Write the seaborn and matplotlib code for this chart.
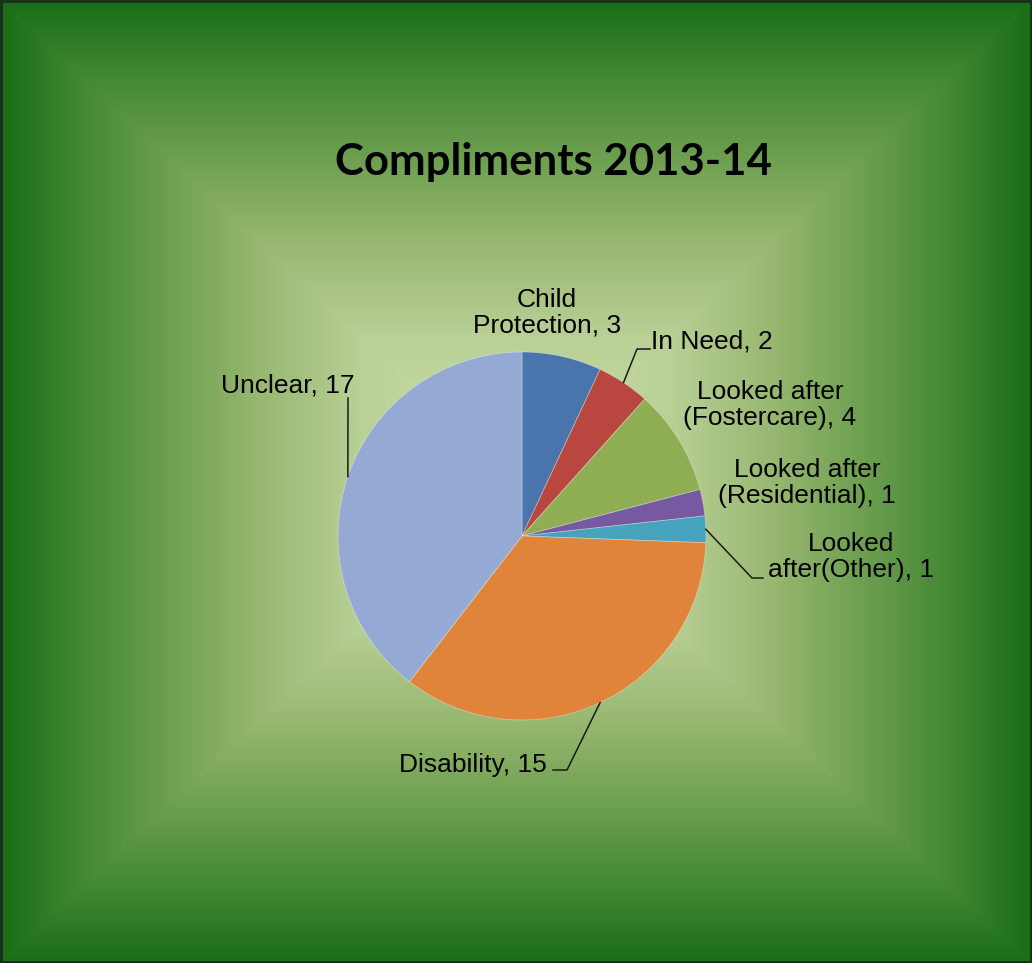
import numpy as np
import matplotlib
matplotlib.use("Agg")
import matplotlib.pyplot as plt
from matplotlib.colors import LinearSegmentedColormap
import seaborn as sns

# ---- data -------------------------------------------------------------
categories = ["Child\nProtection", "In Need", "Looked after\n(Fostercare)",
              "Looked after\n(Residential)", "Looked\nafter(Other)",
              "Disability", "Unclear"]
counts = [3, 2, 4, 1, 1, 15, 17]
title = "Compliments 2013-14"

slice_colors = ["#4a75ac", "#b9473f", "#8fae53", "#7659a0",
                "#45a3bd", "#e0843c", "#94aad4"]

# ---- figure geometry (pixels) ------------------------------------------
W, H, DPI = 1032, 963, 100
CX, CY, R = 522, 536, 184

fig = plt.figure(figsize=(W / DPI, H / DPI), dpi=DPI)

# rectangular "from centre" gradient background
bg = fig.add_axes([0, 0, 1, 1])
bg.set_axis_off()
xs = np.linspace(-1, 1, W)
ys = np.linspace(-1, 1, H)
gx, gy = np.meshgrid(xs, ys)
t = np.maximum(np.abs(gx), np.abs(gy))
stops = [(0.00, (205, 225, 175)), (0.30, (185, 208, 150)),
         (0.50, (152, 183, 112)), (0.67, (110, 160, 80)),
         (0.85, (65, 135, 50)), (1.00, (25, 110, 22))]
cmap = LinearSegmentedColormap.from_list(
    "bg", [(p, tuple(c / 255 for c in rgb)) for p, rgb in stops])
bg.imshow(t, cmap=cmap, vmin=0, vmax=1, aspect="auto",
          extent=[0, W, H, 0], interpolation="bilinear")
bg.set_xlim(0, W)
bg.set_ylim(H, 0)
bg.add_patch(plt.Rectangle((1, 1), W - 2, H - 2, fill=False,
                           edgecolor="#1c2a1c", linewidth=2))

# pie axes placed so that radius 1 = R pixels
ax = fig.add_axes([(CX - R) / W, (H - CY - R) / H, 2 * R / W, 2 * R / H])
ax.set_axis_off()

palette = sns.color_palette(slice_colors)
wedges, _ = ax.pie(counts, colors=palette, startangle=90, counterclock=False,
                   radius=1,
                   wedgeprops=dict(linewidth=0.6, edgecolor=(1, 1, 1, 0.35)))
ax.set_xlim(-1, 1)
ax.set_ylim(-1, 1)


def px(x, y):
    """pixel position -> pie data coordinates"""
    return (x - CX) / R, (CY - y) / R


label_font = dict(family=["Liberation Sans", "DejaVu Sans"], fontsize=19,
                  color="black", linespacing=1.1)

label_pos = [(547, 313, "center"), (651, 342, "left"), (770, 405, "center"),
             (807, 483, "center"), (851, 557, "center"), (473, 765, "center"),
             (288, 385, "center")]
leader_pts = [None, [(637, 349), (650, 349)], None, None,
              [(752, 578), (763, 578)], [(567, 770), (553, 770)],
              [(348, 398)]]

for w, cat, n, (lx, ly, ha), pts in zip(wedges, categories, counts,
                                        label_pos, leader_pts):
    x, y = px(lx, ly)
    ax.text(x, y, f"{cat}, {n}", ha=ha, va="center", clip_on=False,
            multialignment="center", **label_font)
    if pts:
        mid = np.deg2rad((w.theta1 + w.theta2) / 2)
        path = [(np.cos(mid), np.sin(mid))] + [px(a, b) for a, b in pts]
        ax.plot(*zip(*path), color="#1a1a1a", linewidth=1.1, clip_on=False)

fig.text(553 / W, 1 - 162 / H, title, ha="center", va="center",
         family=["Lato", "DejaVu Sans"], fontweight="bold", fontsize=31.5,
         color="black")

fig.savefig("out.png", dpi=DPI)
